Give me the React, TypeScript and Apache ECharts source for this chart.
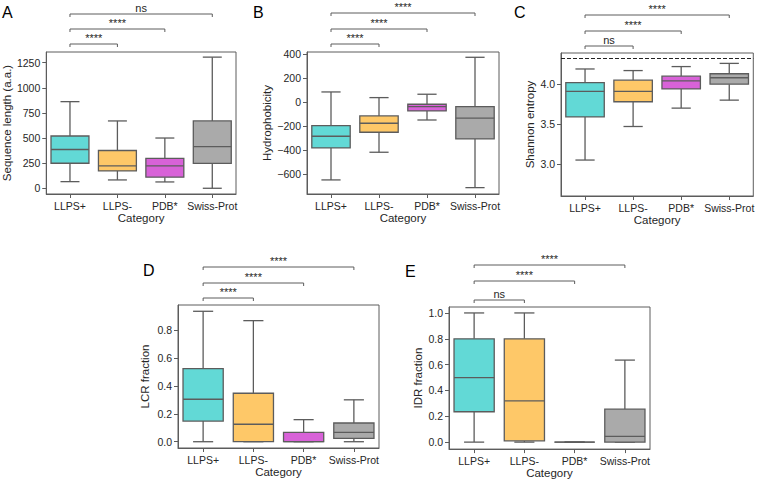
import React, { useEffect, useRef } from 'react';
import * as echarts from 'echarts';

const CATEGORIES = ['LLPS+', 'LLPS-', 'PDB*', 'Swiss-Prot'];
const COLORS = ['#62d9d6', '#fec868', '#d862d8', '#aaaaaa'];

// [low whisker, Q1, median, Q3, high whisker]
const SEQ_LENGTH = [[66, 249, 386, 520, 862], [83, 173, 222, 376, 670], [63, 110, 222, 298, 500], [0, 247, 414, 670, 1305]];
const HYDRO = [[-647, -381, -284, -196, 84], [-417, -251, -176, -115, 37], [-149, -74, -38, -18, 65], [-711, -306, -134, -38, 372]];
const ENTROPY = [[3.05, 3.59, 3.91, 4.02, 4.19], [3.47, 3.78, 3.91, 4.05, 4.17], [3.7, 3.94, 4.04, 4.1, 4.22], [3.8, 4.0, 4.08, 4.13, 4.26]];
const LCR = [[0, 0.148, 0.304, 0.523, 0.934], [0, 0, 0.125, 0.347, 0.867], [0, 0, 0, 0.067, 0.158], [0, 0.024, 0.067, 0.134, 0.3]];
const IDR = [[0, 0.235, 0.5, 0.8, 1.0], [0, 0.01, 0.32, 0.8, 1.0], [0, 0, 0, 0, 0], [0, 0, 0.045, 0.255, 0.635]];
const ENTROPY_MAX = 4.32;

const COMPARISONS = [[0, 1], [0, 2], [0, 3]];
const SIG_A = ['****', '****', 'ns'];
const SIG_B = ['****', '****', '****'];
const SIG_C = ['ns', '****', '****'];
const SIG_D = ['****', '****', '****'];
const SIG_E = ['ns', '****', '****'];

const TICKS_A = [0, 250, 500, 750, 1000, 1250];
const TICKS_B = [-600, -400, -200, 0, 200, 400];
const TICKS_C = [3.0, 3.5, 4.0];
const TICKS_D = [0, 0.2, 0.4, 0.6, 0.8];
const TICKS_E = [0, 0.2, 0.4, 0.6, 0.8, 1.0];

const FONT = '"Liberation Sans", Arial, sans-serif';
const LINE = '#5c5c5c';
const TEXT = '#262626';

const fmtInt = (v: number) => String(Math.round(v)).replace('-', '\u2212');
const fmt1 = (v: number) => v.toFixed(1);

const PANELS = [
  { letter: 'A', lx: 2, ly: 4, grid: { left: 45, top: 52, width: 191, height: 142 }, min: -57, max: 1356, ticks: TICKS_A, fmt: fmtInt, data: SEQ_LENGTH, sig: SIG_A, offs: [8, 23, 38], name: 'Sequence length (a.a.)', nameGap: 33, xGap: 17 },
  { letter: 'B', lx: 253, ly: 4, grid: { left: 307, top: 52, width: 192, height: 142 }, min: -764, max: 416, ticks: TICKS_B, fmt: fmtInt, data: HYDRO, sig: SIG_B, offs: [8, 23, 39], name: 'Hydrophobicity', nameGap: 32, xGap: 17 },
  { letter: 'C', lx: 514, ly: 4, grid: { left: 561, top: 53, width: 195, height: 143 }, min: 2.6, max: 4.39, ticks: TICKS_C, fmt: fmt1, data: ENTROPY, sig: SIG_C, offs: [7, 22, 38], name: 'Shannon entropy', nameGap: 25, xGap: 16, dashed: ENTROPY_MAX },
  { letter: 'D', lx: 143, ly: 262, grid: { left: 178, top: 305, width: 201, height: 143 }, min: -0.045, max: 0.979, ticks: TICKS_D, fmt: fmt1, data: LCR, sig: SIG_D, offs: [7, 22, 38], name: 'LCR fraction', nameGap: 27, xGap: 16 },
  { letter: 'E', lx: 405, ly: 263, grid: { left: 449, top: 307, width: 201, height: 143 }, min: -0.054, max: 1.046, ticks: TICKS_E, fmt: fmt1, data: IDR, sig: SIG_E, offs: [7, 26, 42], name: 'IDR fraction', nameGap: 25, xGap: 14 },
];

const boxRender = (params: any, api: any) => {
  const idx = api.value(0);
  const lo = api.value(1), q1 = api.value(2), med = api.value(3), q3 = api.value(4), hi = api.value(5);
  const x = api.coord([idx, med])[0];
  const band = api.size([1, 0])[0];
  const hw = band * 0.4;
  const cw = band * 0.2;
  const y = (v: number) => api.coord([idx, v])[1];
  const ls = { stroke: LINE, lineWidth: 1.3, fill: 'none' };
  return {
    type: 'group',
    children: [
      { type: 'line', shape: { x1: x, y1: y(lo), x2: x, y2: y(q1) }, style: ls },
      { type: 'line', shape: { x1: x, y1: y(q3), x2: x, y2: y(hi) }, style: ls },
      { type: 'line', shape: { x1: x - cw, y1: y(lo), x2: x + cw, y2: y(lo) }, style: ls },
      { type: 'line', shape: { x1: x - cw, y1: y(hi), x2: x + cw, y2: y(hi) }, style: ls },
      { type: 'rect', shape: { x: x - hw, y: y(q3), width: 2 * hw, height: y(q1) - y(q3) }, style: { fill: COLORS[idx], stroke: LINE, lineWidth: 1.3 } },
      { type: 'line', shape: { x1: x - hw, y1: y(med), x2: x + hw, y2: y(med) }, style: ls },
    ],
  };
};

const bracketRender = (labels: string[], offs: number[]) => (params: any, api: any) => {
  const a = api.value(0), b = api.value(1), lvl = api.value(2);
  const xa = api.coord([a, 0])[0];
  const xb = api.coord([b, 0])[0];
  const top = params.coordSys.y;
  const yb = top - offs[lvl];
  return {
    type: 'group',
    children: [
      { type: 'polyline', shape: { points: [[xa, yb + 3], [xa, yb], [xb, yb], [xb, yb + 3]] }, style: { stroke: LINE, fill: 'none', lineWidth: 1 } },
      { type: 'text', style: { text: labels[params.dataIndex], x: (xa + xb) / 2, y: yb - 1, align: 'center', verticalAlign: 'bottom', fontSize: 11, fontFamily: FONT, fill: TEXT } },
    ],
  };
};

export default function App() {
  const ref = useRef<HTMLDivElement>(null);
  useEffect(() => {
    if (!ref.current) return;
    const chart = echarts.init(ref.current, undefined, { renderer: 'svg' });
    const grid: any[] = [];
    const xAxis: any[] = [];
    const yAxis: any[] = [];
    const series: any[] = [];
    const graphic: any[] = [];
    PANELS.forEach((p, i) => {
      grid.push({ ...p.grid, show: true, borderColor: LINE, borderWidth: 1, backgroundColor: 'transparent' });
      xAxis.push({
        gridIndex: i, type: 'category', data: CATEGORIES, boundaryGap: true,
        axisLine: { show: true, onZero: false, lineStyle: { color: LINE } },
        axisTick: { show: true, alignWithLabel: true, length: 4, lineStyle: { color: LINE } },
        axisLabel: { margin: 6, color: TEXT, fontSize: 10.5, fontFamily: FONT, interval: 0 },
        name: 'Category', nameLocation: 'middle', nameGap: p.xGap,
        nameTextStyle: { color: TEXT, fontSize: 11.5, fontFamily: FONT },
        splitLine: { show: false },
      });
      yAxis.push({
        gridIndex: i, type: 'value', min: p.min, max: p.max,
        axisLine: { show: true, onZero: false, lineStyle: { color: LINE } },
        axisTick: { show: true, length: 4, customValues: p.ticks, lineStyle: { color: LINE } },
        axisLabel: { customValues: p.ticks, margin: 6, color: TEXT, fontSize: 10.5, fontFamily: FONT, formatter: p.fmt },
        splitLine: { show: false },
        name: p.name, nameLocation: 'middle', nameGap: p.nameGap,
        nameTextStyle: { color: TEXT, fontSize: 11.5, fontFamily: FONT },
      });
      const boxSeries: any = {
        type: 'custom', xAxisIndex: i, yAxisIndex: i, clip: false,
        renderItem: boxRender,
        data: p.data.map((d, k) => [k, ...d]),
      };
      if (p.dashed !== undefined) {
        boxSeries.markLine = {
          silent: true, symbol: 'none', label: { show: false },
          lineStyle: { type: [4, 2], color: '#222', width: 1 },
          data: [{ yAxis: p.dashed }],
        };
      }
      series.push(boxSeries);
      series.push({
        type: 'custom', xAxisIndex: i, yAxisIndex: i, clip: false, z: 5,
        renderItem: bracketRender(p.sig, p.offs),
        data: COMPARISONS.map(([a, b], l) => [a, b, l]),
      });
      graphic.push({ type: 'text', left: p.lx, top: p.ly, style: { text: p.letter, fontSize: 16, fontFamily: FONT, fill: '#000' } });
    });
    chart.setOption({ animation: false, grid, xAxis, yAxis, series, graphic });
    return () => chart.dispose();
  }, []);
  return <div ref={ref} style={{ position: 'fixed', left: 0, top: 0, width: 757, height: 480, background: '#fff' }} />;
}
